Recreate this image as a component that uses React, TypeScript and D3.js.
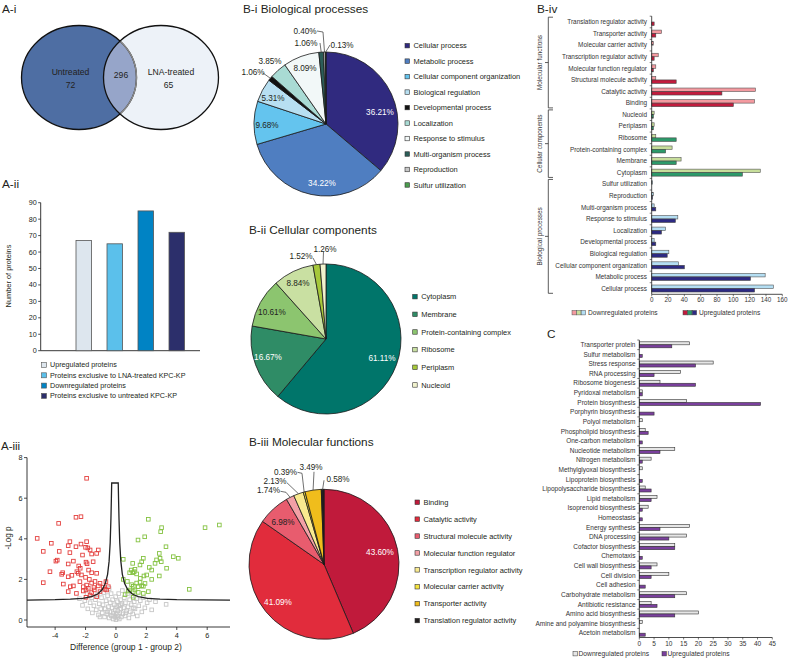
import React from 'react';
import * as d3 from 'd3';

const FONT = '"Liberation Sans", Arial, Helvetica, sans-serif';
const TXT = '#231f20';

// ---------------- A-i Venn ----------------
const vennSets = ['Untreated', 'LNA-treated'];
const vennOnly = [72, 65];
const vennShared = 296;

// ---------------- A-ii bars ----------------
const aiiGroups = [
  'Upregulated proteins',
  'Proteins exclusive to LNA-treated KPC-KP',
  'Downregulated proteins',
  'Proteins exclusive to untreated KPC-KP',
];
const aiiCounts = [67, 65, 85, 72];
const aiiColors = ['#dde6ee', '#5bc0eb', '#0083c4', '#2c2f6b'];
const aiiTicks = [0, 10, 20, 30, 40, 50, 60, 70, 80, 90];

// ---------------- A-iii volcano ----------------
const redPoints: [number, number][] = [
  [-1.93, 6.98], [-2.63, 5.06], [-2.3, 5.09], [-3.77, 4.76], [-5.18, 4.02], [-4.25, 3.78], [-4.78, 3.38],
  [-3.73, 3.38], [-3.03, 3.86], [-3.14, 3.66], [-2.63, 3.61], [-2.3, 3.74], [-1.93, 3.86], [-2.0, 3.58],
  [-1.85, 3.55], [-1.7, 3.45], [-1.6, 3.25], [-3.03, 3.32], [-3.86, 2.95], [-3.95, 2.9], [-3.14, 2.76],
  [-2.45, 2.66], [-2.35, 2.55], [-1.97, 2.85], [-1.9, 2.77], [-1.5, 2.87], [-1.16, 3.45], [-1.27, 3.28],
  [-4.34, 2.38], [-3.5, 2.33], [-3.57, 2.25], [-2.9, 2.2], [-2.57, 2.38], [-2.48, 2.3], [-2.27, 2.22],
  [-1.8, 2.46], [-1.6, 2.33], [-1.27, 2.3], [-4.78, 1.84], [-3.46, 1.77], [-3.14, 2.13], [-3.0, 1.64],
  [-2.8, 1.68], [-2.37, 1.89], [-2.15, 1.64], [-1.93, 1.72], [-1.82, 1.56], [-1.97, 1.48], [-1.6, 1.82],
  [-1.38, 1.9], [-1.16, 1.68], [-1.05, 1.81], [-0.83, 1.62], [-0.72, 1.51], [-0.66, 1.89], [-3.14, 1.4],
  [-2.6, 1.31], [-2.15, 1.43], [-1.6, 1.35], [-1.42, 1.48], [-1.05, 1.4], [-1.97, 1.12], [-1.7, 1.23],
  [-1.27, 1.15], [-0.61, 1.48], [-0.5, 1.64], [-2.8, 2.9], [-2.2, 3.2], [-1.75, 2.0], [-2.0, 2.1], [-1.45, 1.6],
];
const greenPoints: [number, number][] = [
  [2.13, 4.96], [3.0, 4.55], [2.94, 4.35], [1.89, 4.1], [1.45, 3.94], [3.29, 3.61], [2.85, 3.28], [2.9, 3.04],
  [2.98, 2.87], [1.8, 3.04], [1.69, 2.87], [2.67, 2.96], [2.57, 2.79], [3.77, 3.12], [4.1, 3.04], [3.33, 2.55],
  [0.48, 2.99], [1.1, 2.79], [1.58, 2.71], [2.19, 2.59], [2.35, 2.46], [2.85, 2.17], [1.0, 2.46], [1.1, 2.33],
  [1.2, 2.38], [0.9, 2.33], [1.25, 2.5], [1.36, 2.27], [2.02, 2.22], [1.84, 2.17], [2.35, 2.0], [0.48, 2.0],
  [1.03, 1.74], [1.14, 1.66], [1.36, 1.82], [1.58, 1.85], [1.69, 1.69], [1.8, 1.66], [0.92, 1.48], [1.14, 1.4],
  [1.25, 1.48], [1.47, 1.36], [0.81, 1.43], [1.8, 1.31], [2.13, 1.4], [4.82, 1.51], [0.6, 1.25], [1.14, 1.12],
  [1.47, 1.64], [1.91, 1.8], [5.86, 4.55], [6.8, 4.68], [0.75, 1.9], [1.6, 2.05],
];
const grayPoints: [number, number][] = [
  [-2.4, 1.05], [-2.2, 0.72], [-2.05, 0.95], [-1.9, 1.3], [-1.85, 0.55], [-1.7, 0.85], [-1.6, 1.1], [-1.55, 0.35],
  [-1.45, 0.7], [-1.35, 1.0], [-1.3, 0.5], [-1.2, 1.25], [-1.15, 0.25], [-1.1, 0.8], [-1.0, 0.55], [-0.95, 1.1],
  [-0.9, 0.35], [-0.85, 0.75], [-0.8, 1.35], [-0.75, 0.15], [-0.7, 0.55], [-0.65, 0.95], [-0.6, 0.3], [-0.55, 1.2],
  [-0.5, 0.65], [-0.45, 0.1], [-0.45, 1.55], [-0.4, 0.4], [-0.38, 0.85], [-0.32, 1.3], [-0.3, 0.2], [-0.25, 0.6],
  [-0.22, 1.0], [-0.18, 0.05], [-0.15, 0.35], [-0.1, 0.75], [-0.08, 0.15], [-0.05, 0.5], [-0.02, 1.15], [0.0, 0.02],
  [0.02, 0.3], [0.05, 0.65], [0.08, 0.1], [0.1, 0.9], [0.12, 0.45], [0.15, 0.2], [0.18, 1.3], [0.2, 0.7],
  [0.22, 0.05], [0.25, 0.35], [0.3, 1.0], [0.32, 0.55], [0.35, 0.15], [0.4, 0.8], [0.42, 1.45], [0.45, 0.3],
  [0.5, 0.6], [0.55, 1.1], [0.6, 0.2], [0.62, 0.85], [0.7, 0.45], [0.75, 1.3], [0.8, 0.65], [0.85, 0.1],
  [0.9, 1.0], [0.95, 0.4], [1.0, 0.75], [1.05, 1.2], [1.1, 0.3], [1.2, 0.9], [1.25, 0.55], [1.35, 1.05],
  [1.4, 0.2], [1.5, 0.7], [1.6, 0.95], [1.7, 0.4], [1.8, 1.1], [1.9, 0.6], [2.05, 0.85], [2.2, 1.0],
  [2.35, 0.5], [2.6, 0.9], [3.3, 0.77], [-0.55, 0.4], [0.3, 0.75], [-0.2, 0.25], [0.65, 0.35], [-1.05, 0.15],
  [1.15, 0.6],
];
const thresholdCurve: [number, number][] = [
  [-5.85, 0.98], [-4, 1.0], [-3, 1.03], [-2.2, 1.07], [-1.6, 1.15], [-1.2, 1.28], [-0.9, 1.5], [-0.7, 1.8],
  [-0.55, 2.25], [-0.45, 2.9], [-0.38, 3.8], [-0.33, 5.0], [-0.3, 6.0], [-0.28, 6.75], [0.15, 6.75],
  [0.17, 6.0], [0.2, 5.0], [0.25, 3.8], [0.32, 2.9], [0.42, 2.25], [0.57, 1.8], [0.77, 1.5], [1.07, 1.28],
  [1.47, 1.15], [2.07, 1.07], [2.9, 1.03], [4, 1.0], [7.5, 0.98],
];
const volXTicks = [-4, -2, 0, 2, 4, 6];
const volYTicks = [0, 2, 4, 6, 8];

// ---------------- B-i ----------------
const bpNames = [
  'Cellular process', 'Metabolic process', 'Cellular component organization', 'Biological regulation',
  'Developmental process', 'Localization', 'Response to stimulus', 'Multi-organism process', 'Reproduction',
  'Sulfur utilization',
];
const bpPercents = [36.21, 34.22, 9.68, 5.31, 1.06, 3.85, 8.09, 1.06, 0.4, 0.13];
const bpColors = ['#302a7f', '#4f7ec1', '#64c4ee', '#b7dff1', '#121212', '#a9dbd4', '#f2f8f8', '#2b5d58', '#c7c7c7', '#4b9c4e'];

// ---------------- B-ii ----------------
const ccNames = ['Cytoplasm', 'Membrane', 'Protein-containing complex', 'Ribosome', 'Periplasm', 'Nucleoid'];
const ccPercents = [61.11, 16.67, 10.61, 8.84, 1.52, 1.26];
const ccColors = ['#00756a', '#2f8c66', '#8cc56f', '#c9e0a2', '#a6c83a', '#f1f2cd'];

// ---------------- B-iii ----------------
const mfNames = [
  'Binding', 'Catalytic activity', 'Structural molecule activity', 'Molecular function regulator',
  'Transcription regulator activity', 'Molecular carrier activity', 'Transporter activity', 'Translation regulator activity',
];
const mfPercents = [43.6, 41.09, 6.98, 1.74, 2.13, 0.39, 3.49, 0.58];
const mfColors = ['#c01a3b', '#e12c3c', '#e85c6e', '#f3a0a6', '#f9ea8f', '#f6e43f', '#f0bd1c', '#231f20'];

// ---------------- B-iv ----------------
const bivCategories = [
  'Translation regulator activity', 'Transporter activity', 'Molecular carrier activity',
  'Transcription regulator activity', 'Molecular function regulator', 'Structural molecule activity',
  'Catalytic activity', 'Binding',
  'Nucleoid', 'Periplasm', 'Ribosome', 'Protein-containing complex', 'Membrane', 'Cytoplasm',
  'Sulfur utilization', 'Reproduction', 'Multi-organism process', 'Response to stimulus', 'Localization',
  'Developmental process', 'Biological regulation', 'Cellular component organization', 'Metabolic process',
  'Cellular process',
];
const bivDown = [0, 12, 2, 8, 5, 5, 127, 126, 3, 3, 5, 25, 36, 133, 1, 2, 3, 32, 17, 3, 21, 33, 139, 149];
const bivUp = [3, 5, 0, 3, 2, 30, 86, 100, 2, 2, 30, 17, 30, 111, 0, 1, 5, 29, 12, 5, 19, 40, 121, 126];
const bivGroupNames = ['Molecular functions', 'Cellular components', 'Biological processes'];
const bivGroupSizes = [8, 6, 10];
const bivDownColors = ['#f49aa0', '#c7de9b', '#b4def3'];
const bivUpColors = ['#c21b3d', '#2c9a6a', '#2d2a83'];
const bivTicks = [0, 20, 40, 60, 80, 100, 120, 140, 160];

// ---------------- C ----------------
const cCategories = [
  'Transporter protein', 'Sulfur metabolism', 'Stress response', 'RNA processing', 'Ribosome biogenesis',
  'Pyridoxal metabolism', 'Protein biosynthesis', 'Porphyrin biosynthesis', 'Polyol metabolism',
  'Phospholipid biosynthesis', 'One-carbon metabolism', 'Nucleotide metabolism', 'Nitrogen metabolism',
  'Methylglyoxal biosynthesis', 'Lipoprotein biosynthesis', 'Lipopolysaccharide biosynthesis', 'Lipid metabolism',
  'Isoprenoid biosynthesis', 'Homeostasis', 'Energy synthesis', 'DNA processing', 'Cofactor biosynthesis',
  'Chemotaxis', 'Cell wall biosynthesis', 'Cell division', 'Cell adhesion', 'Carbohydrate metabolism',
  'Antibiotic resistance', 'Amino acid biosynthesis', 'Amine and polyamine biosynthesis', 'Acetoin metabolism',
];
const cDown = [17, 0, 25, 14, 7, 1, 16, 0, 1, 2, 0, 12, 4, 1, 0, 2, 6, 3, 0, 17, 16, 12, 0, 6, 10, 0, 16, 4, 20, 1, 0];
const cUp = [11, 1, 19, 5, 19, 1, 41, 5, 0, 3, 1, 7, 1, 0, 1, 4, 4, 1, 1, 7, 10, 12, 1, 4, 4, 2, 12, 6, 12, 0, 2];
const cTicks = [0, 5, 10, 15, 20, 25, 30, 35, 40, 45];

// =====================================================

function Venn() {
  const rx = 57.5, ry = 52, cy = 77.5, lx = 79, rxc = 161;
  return (
    <g>
      <defs>
        <clipPath id="vennClipR">
          <ellipse cx={rxc} cy={cy} rx={rx} ry={ry} />
        </clipPath>
      </defs>
      <ellipse cx={lx} cy={cy} rx={rx} ry={ry} fill="#4e6ea3" />
      <ellipse cx={rxc} cy={cy} rx={rx} ry={ry} fill="#edf2f8" />
      <ellipse cx={lx} cy={cy} rx={rx} ry={ry} fill="#96a5c9" clipPath="url(#vennClipR)" />
      <ellipse cx={lx} cy={cy} rx={rx} ry={ry} fill="none" stroke="#111" strokeWidth={1.3} />
      <ellipse cx={lx} cy={cy} rx={rx} ry={ry} fill="none" stroke="#8a8a8a" strokeWidth={1.4} clipPath="url(#vennClipR)" />
      <ellipse cx={rxc} cy={cy} rx={rx} ry={ry} fill="none" stroke="#111" strokeWidth={1.3} />
      <g fontSize={8.6} fill={TXT} textAnchor="middle">
        <text x={70.5} y={74.7}>{vennSets[0]}</text>
        <text x={70.5} y={87.5}>{vennOnly[0]}</text>
        <text x={121} y={78}>{vennShared}</text>
        <text x={171} y={74.7}>{vennSets[1]}</text>
        <text x={168.5} y={87.5}>{vennOnly[1]}</text>
      </g>
    </g>
  );
}

function BarsAii() {
  const y = d3.scaleLinear([0, 90], [350.7, 202.7]);
  const x = d3.scaleBand(aiiGroups, [68.25, 192.25]).paddingInner(0.5).paddingOuter(0.25);
  const axX = 40.7;
  return (
    <g>
      <line x1={axX} x2={axX} y1={y(90)} y2={y(0)} stroke="#222" strokeWidth={0.9} />
      <line x1={axX} x2={200} y1={y(0)} y2={y(0)} stroke="#222" strokeWidth={0.9} />
      {aiiTicks.map((t) => (
        <g key={t}>
          <line x1={axX - 2.5} x2={axX} y1={y(t)} y2={y(t)} stroke="#222" strokeWidth={0.8} />
          <text x={axX - 4} y={y(t) + 2.5} fontSize={7.2} textAnchor="end" fill={TXT}>{t}</text>
        </g>
      ))}
      {aiiGroups.map((g, i) => (
        <rect key={g} x={x(g)} y={y(aiiCounts[i])} width={x.bandwidth()} height={y(0) - y(aiiCounts[i])}
          fill={aiiColors[i]} stroke="#555" strokeWidth={0.8} />
      ))}
      <text transform={`translate(10.5,276) rotate(-90)`} fontSize={7.4} textAnchor="middle" fill={TXT}>Number of proteins</text>
      {aiiGroups.map((g, i) => (
        <g key={g}>
          <rect x={41.5} y={362.5 + i * 10.3} width={5} height={5} fill={aiiColors[i]} stroke="#555" strokeWidth={0.6} />
          <text x={50} y={367.3 + i * 10.3} fontSize={7.2} fill={TXT}>{g}</text>
        </g>
      ))}
    </g>
  );
}

function Volcano() {
  const x = d3.scaleLinear([-5.85, 7.5], [27, 230]);
  const y = d3.scaleLinear([0, 8], [620, 457.6]);
  const line = d3.line<[number, number]>().x((d) => x(d[0])).y((d) => y(d[1]));
  const s = 3.6;
  const sq = (pts: [number, number][], c: string, k: string) =>
    pts.map((p, i) => (
      <rect key={k + i} x={x(p[0]) - s / 2} y={y(p[1]) - s / 2} width={s} height={s} fill="none" stroke={c} strokeWidth={0.9} />
    ));
  const axY = 627;
  return (
    <g>
      {sq(grayPoints, '#c6c6c6', 'g')}
      {sq(redPoints, '#e4413f', 'r')}
      {sq(greenPoints, '#84c241', 'n')}
      <path d={line(thresholdCurve) || ''} fill="none" stroke="#222" strokeWidth={1.3} />
      <line x1={27} x2={27} y1={y(8)} y2={axY} stroke="#222" strokeWidth={0.9} />
      <line x1={27} x2={230} y1={axY} y2={axY} stroke="#222" strokeWidth={0.9} />
      {volYTicks.map((t) => (
        <g key={t}>
          <line x1={24} x2={27} y1={y(t)} y2={y(t)} stroke="#222" strokeWidth={0.8} />
          <text x={22.5} y={y(t) + 2.6} fontSize={7.3} textAnchor="end" fill={TXT}>{t}</text>
        </g>
      ))}
      {volXTicks.map((t) => (
        <g key={t}>
          <line x1={x(t)} x2={x(t)} y1={axY} y2={axY + 3} stroke="#222" strokeWidth={0.8} />
          <text x={x(t)} y={637.5} fontSize={7.3} textAnchor="middle" fill={TXT}>{t}</text>
        </g>
      ))}
      <text transform="translate(11,538) rotate(-90)" fontSize={8.2} textAnchor="middle" fill={TXT}>-Log p</text>
      <text x={126} y={650} fontSize={8.5} textAnchor="middle" fill={TXT}>Difference (group 1 - group 2)</text>
    </g>
  );
}

type LabelSpec = { dx: number; dy: number; white?: boolean; leader?: [number, number][] };

function PieChart(props: {
  cx: number; cy: number; r: number; names: string[]; values: number[]; colors: string[];
  labels: LabelSpec[]; legendX: number; legendY: number; legendStep: number;
  title: string; titleX: number; titleY: number;
}) {
  const { cx, cy, r, names, values, colors, labels } = props;
  const arcs = d3.pie<number>().sort(null).value((d) => d)(values);
  const arc = d3.arc<d3.PieArcDatum<number>>().innerRadius(0).outerRadius(r);
  const edge = d3.arc<d3.PieArcDatum<number>>().innerRadius(r).outerRadius(r);
  return (
    <g>
      <text x={props.titleX} y={props.titleY} fontSize={11.8} fill={TXT}>{props.title}</text>
      <g transform={`translate(${cx},${cy})`}>
        {arcs.map((a, i) => (
          <path key={i} d={arc(a) || ''} fill={colors[i]} stroke="#1a1a1a" strokeWidth={0.8} strokeLinejoin="round" />
        ))}
        {arcs.map((a, i) => {
          const L = labels[i];
          if (!L.leader) return null;
          const end = edge.centroid(a);
          const pts = [...L.leader, end];
          return <polyline key={'l' + i} points={pts.map((p) => p.join(',')).join(' ')} fill="none" stroke="#333" strokeWidth={0.7} />;
        })}
        {arcs.map((a, i) => {
          const L = labels[i];
          return (
            <text key={'t' + i} x={L.dx} y={L.dy + 2.9} fontSize={8.2} textAnchor="middle" fill={L.white ? '#ffffff' : TXT}>
              {values[i].toFixed(2)}%
            </text>
          );
        })}
      </g>
      {names.map((n, i) => (
        <g key={n}>
          <rect x={props.legendX} y={props.legendY + i * props.legendStep - 2.3} width={4.5} height={4.5}
            fill={colors[i]} stroke="#333" strokeWidth={0.6} />
          <text x={props.legendX + 8.5} y={props.legendY + i * props.legendStep + 2.6} fontSize={7.45} fill={TXT}>{n}</text>
        </g>
      ))}
    </g>
  );
}

const bpLabels: LabelSpec[] = [
  { dx: 54, dy: -12, white: true },
  { dx: -4, dy: 59, white: true },
  { dx: -59, dy: 1 },
  { dx: -53, dy: -26 },
  { dx: -73, dy: -52, leader: [[-63, -51]] },
  { dx: -56, dy: -63 },
  { dx: -21, dy: -56 },
  { dx: -20, dy: -81, leader: [[-6, -81]] },
  { dx: -21, dy: -93, leader: [[-9, -93], [-3, -92]] },
  { dx: 16, dy: -79, leader: [[4, -79]] },
];
const ccLabels: LabelSpec[] = [
  { dx: 56, dy: 19, white: true },
  { dx: -58, dy: 18, white: true },
  { dx: -54, dy: -27 },
  { dx: -28, dy: -56 },
  { dx: -25, dy: -83, leader: [[-13, -81]] },
  { dx: -1, dy: -90, leader: [[-2.5, -87]] },
];
const mfLabels: LabelSpec[] = [
  { dx: 56, dy: -12, white: true },
  { dx: -46, dy: 38, white: true },
  { dx: -41, dy: -42 },
  { dx: -55.5, dy: -74, leader: [[-43.5, -73], [-38, -72]] },
  { dx: -49, dy: -83.5, leader: [[-37, -81.5]] },
  { dx: -38.5, dy: -92.5, leader: [[-26.5, -92], [-22, -91]] },
  { dx: -13, dy: -97, leader: [[-10, -92.5]] },
  { dx: 14, dy: -85, leader: [[0, -84]] },
];

function Biv() {
  const y = d3.scaleBand(bivCategories, [16.2, 294.3]);
  const x = d3.scaleLinear([0, 160], [651.7, 782.3]);
  const h = 3.5;
  let start = 0;
  const groupOf = (i: number) => {
    let acc = 0;
    for (let g = 0; g < bivGroupSizes.length; g++) {
      acc += bivGroupSizes[g];
      if (i < acc) return g;
    }
    return 0;
  };
  const brackets = bivGroupSizes.map((n, g) => {
    const first = bivCategories[start];
    const last = bivCategories[start + n - 1];
    start += n;
    const y0 = (y(first) as number) + 1;
    const y1 = (y(last) as number) + y.bandwidth() - 1;
    return { g, y0, y1 };
  });
  const axisY = 294.3;
  return (
    <g>
      <text x={537} y={12.5} fontSize={11.8} fill={TXT}>B-iv</text>
      {bivCategories.map((c, i) => {
        const yc = (y(c) as number) + y.bandwidth() / 2;
        const g = groupOf(i);
        return (
          <g key={c}>
            <text x={647} y={yc + 2.2} fontSize={6.4} textAnchor="end" fill="#333">{c}</text>
            {bivDown[i] > 0 && (
              <rect x={x(0)} y={yc - h} width={x(bivDown[i]) - x(0)} height={h} fill={bivDownColors[g]} stroke="#555" strokeWidth={0.6} />
            )}
            {bivUp[i] > 0 && (
              <rect x={x(0)} y={yc} width={x(bivUp[i]) - x(0)} height={h} fill={bivUpColors[g]} stroke="#444" strokeWidth={0.6} />
            )}
          </g>
        );
      })}
      {bivCategories.map((c) => (
        <line key={'tk' + c} x1={x(0) - 2} x2={x(0)} y1={y(c) as number} y2={y(c) as number} stroke="#222" strokeWidth={0.6} />
      ))}
      <line x1={x(0)} x2={x(0)} y1={16.2} y2={axisY} stroke="#222" strokeWidth={0.8} />
      <line x1={x(0)} x2={x(160)} y1={axisY} y2={axisY} stroke="#222" strokeWidth={0.8} />
      {bivTicks.map((t) => (
        <g key={t}>
          <line x1={x(t)} x2={x(t)} y1={axisY} y2={axisY + 2} stroke="#222" strokeWidth={0.6} />
          <text x={x(t)} y={axisY + 7.5} fontSize={6.3} textAnchor="middle" fill="#333">{t}</text>
        </g>
      ))}
      {brackets.map((b) => (
        <g key={b.g}>
          <polyline points={`553,${b.y0} 548.3,${b.y0} 548.3,${b.y1} 553,${b.y1}`} fill="none" stroke="#333" strokeWidth={0.8} />
          <line x1={545} x2={548.3} y1={(b.y0 + b.y1) / 2} y2={(b.y0 + b.y1) / 2} stroke="#333" strokeWidth={0.8} />
          <text transform={`translate(542,${(b.y0 + b.y1) / 2}) rotate(-90)`} fontSize={6.4} textAnchor="middle" fill="#333">
            {bivGroupNames[b.g]}
          </text>
        </g>
      ))}
      {/* legend */}
      {bivDownColors.map((c, i) => (
        <rect key={'ld' + i} x={572 + i * 4.6} y={310.5} width={4.4} height={4.4} fill={c} stroke="#555" strokeWidth={0.5} />
      ))}
      <text x={588} y={315} fontSize={6.6} fill="#333">Downregulated proteins</text>
      {bivUpColors.map((c, i) => (
        <rect key={'lu' + i} x={683 + i * 4.6} y={310.5} width={4.4} height={4.4} fill={c} stroke="#444" strokeWidth={0.5} />
      ))}
      <text x={699} y={315} fontSize={6.6} fill="#333">Upregulated proteins</text>
    </g>
  );
}

function PanelC() {
  const y = d3.scaleBand(cCategories, [340, 638]);
  const x = d3.scaleLinear([0, 45], [639.3, 772.3]);
  const h = 3;
  const axisY = 637.5;
  return (
    <g>
      <text x={547} y={337.5} fontSize={11.8} fill={TXT}>C</text>
      {cCategories.map((c, i) => {
        const yc = (y(c) as number) + y.bandwidth() / 2;
        return (
          <g key={c}>
            <text x={635.5} y={yc + 2.2} fontSize={6.5} textAnchor="end" fill="#333">{c}</text>
            {cDown[i] > 0 && (
              <rect x={x(0)} y={yc - h} width={x(cDown[i]) - x(0)} height={h} fill="#e6e6e6" stroke="#333" strokeWidth={0.6} />
            )}
            {cUp[i] > 0 && (
              <rect x={x(0)} y={yc} width={x(cUp[i]) - x(0)} height={h} fill="#7a3f9d" stroke="#333" strokeWidth={0.6} />
            )}
          </g>
        );
      })}
      {cCategories.map((c) => (
        <line key={'tk' + c} x1={x(0) - 2} x2={x(0)} y1={y(c) as number} y2={y(c) as number} stroke="#222" strokeWidth={0.6} />
      ))}
      <line x1={x(0)} x2={x(0)} y1={340} y2={axisY} stroke="#222" strokeWidth={0.8} />
      <line x1={x(0)} x2={x(45)} y1={axisY} y2={axisY} stroke="#222" strokeWidth={0.8} />
      {cTicks.map((t) => (
        <g key={t}>
          <line x1={x(t)} x2={x(t)} y1={axisY} y2={axisY + 2} stroke="#222" strokeWidth={0.6} />
          <text x={x(t)} y={axisY + 8} fontSize={6.5} textAnchor="middle" fill="#333">{t}</text>
        </g>
      ))}
      <rect x={573} y={651.5} width={4.4} height={4.4} fill="#e6e6e6" stroke="#333" strokeWidth={0.5} />
      <text x={578.5} y={656} fontSize={6.7} fill="#333">Downregulated proteins</text>
      <rect x={662} y={651.5} width={4.4} height={4.4} fill="#7a3f9d" stroke="#333" strokeWidth={0.5} />
      <text x={667.5} y={656} fontSize={6.7} fill="#333">Upregulated proteins</text>
    </g>
  );
}

export default function App() {
  return (
    <svg width={789} height={660} style={{ position: 'absolute', left: 0, top: 0, background: '#fff' }} fontFamily={FONT}>
      <rect width={789} height={660} fill="#ffffff" />
      <text x={2} y={12.5} fontSize={11.8} fill={TXT}>A-i</text>
      <text x={2} y={187.5} fontSize={11.8} fill={TXT}>A-ii</text>
      <text x={1} y={449.5} fontSize={11.5} fill={TXT}>A-iii</text>
      <Venn />
      <BarsAii />
      <Volcano />
      <PieChart cx={326} cy={124} r={72} names={bpNames} values={bpPercents} colors={bpColors} labels={bpLabels}
        legendX={405} legendY={45.7} legendStep={15.48} title="B-i Biological processes" titleX={243} titleY={12.5} />
      <PieChart cx={326} cy={339} r={75} names={ccNames} values={ccPercents} colors={ccColors} labels={ccLabels}
        legendX={412.7} legendY={296.7} legendStep={17.66} title="B-ii Cellular components" titleX={249} titleY={234} />
      <PieChart cx={324} cy={564.3} r={75} names={mfNames} values={mfPercents} colors={mfColors} labels={mfLabels}
        legendX={415} legendY={502.3} legendStep={16.9} title="B-iii Molecular functions" titleX={249} titleY={445.5} />
      <Biv />
      <PanelC />
    </svg>
  );
}
